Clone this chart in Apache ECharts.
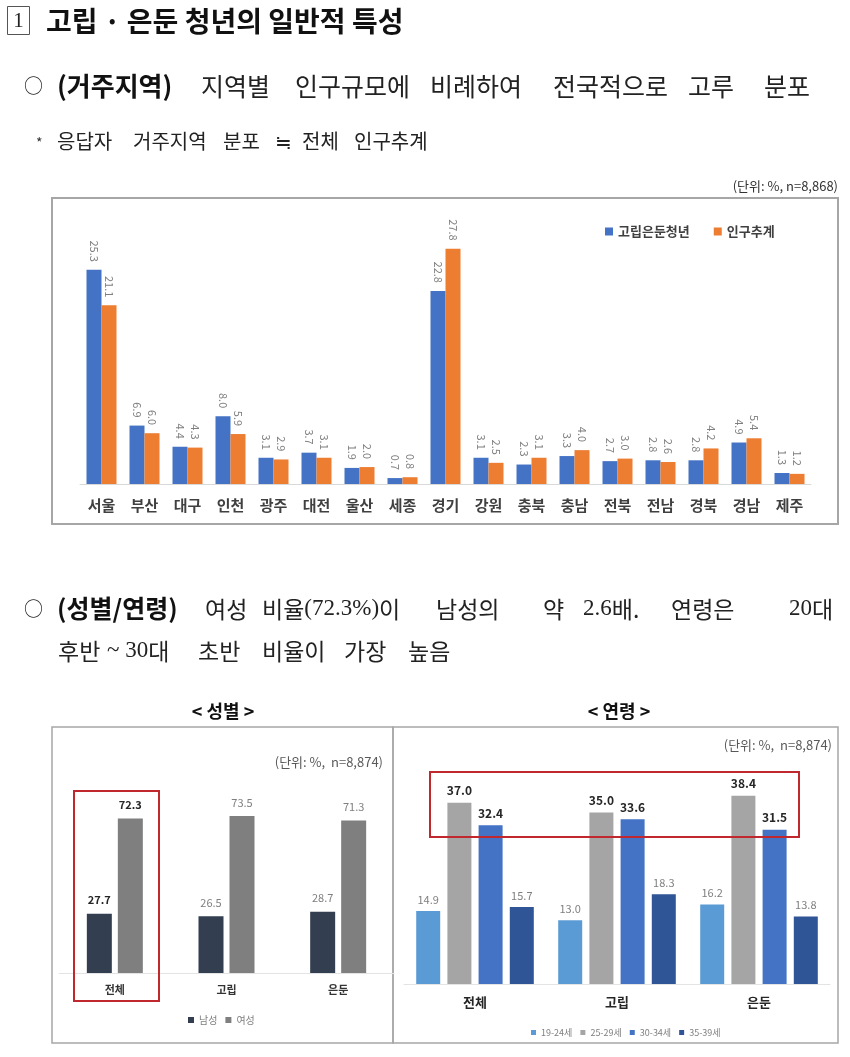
<!DOCTYPE html>
<html>
<head>
<meta charset="utf-8">
<script src="https://cdn.jsdelivr.net/npm/echarts@6/dist/echarts.min.js"></script>
<style>
html,body{margin:0;padding:0;background:#fff;}
#main{width:850px;height:1057px;}
</style>
</head>
<body>
<div id="main"></div>
<script>
// ---- Data ----
const regions = ['서울','부산','대구','인천','광주','대전','울산','세종','경기','강원','충북','충남','전북','전남','경북','경남','제주'];
const isolatedYouth = [25.3,6.9,4.4,8.0,3.1,3.7,1.9,0.7,22.8,3.1,2.3,3.3,2.7,2.8,2.8,4.9,1.3];
const populationEst = [21.1,6.0,4.3,5.9,2.9,3.1,2.0,0.8,27.8,2.5,3.1,4.0,3.0,2.6,4.2,5.4,1.2];

const genderGroups = ['전체','고립','은둔'];
const male = [27.7,26.5,28.7];
const female = [72.3,73.5,71.3];

const ageGroups = ['전체','고립','은둔'];
const age1924 = [14.9,13.0,16.2];
const age2529 = [37.0,35.0,38.4];
const age3034 = [32.4,33.6,31.5];
const age3539 = [15.7,18.3,13.8];

// ---- Rendering ----
const FONT = '"Noto Sans CJK KR","Noto Sans",sans-serif';
const SERIF = '"Liberation Serif",serif';
const chart = echarts.init(document.getElementById('main'), null, {renderer:'canvas'});
const fmt1 = p => Number(p.value).toFixed(1);

function txt(text, x, y, size, weight, opts) {
  opts = opts || {};
  return {
    type:'text', z:10,
    style: Object.assign({
      text:text, x:x, y:y, fontSize:size, fontWeight:weight||'normal',
      fontFamily:FONT, fill:opts.fill||'#111',
      align:opts.align||'left', verticalAlign:'middle'
    }, opts.extra||{})
  };
}
function mixed(text, x, y, size) {
  return {type:'text', z:10, style:{x:x, y:y, verticalAlign:'middle', fill:'#222', text:text,
    rich:{k:{fontSize:size, fontFamily:FONT, fill:'#222'}, n:{fontSize:size, fontFamily:SERIF, fill:'#222'}}}};
}

const L4 = 23;
const graphics = [
  // title
  {type:'rect', shape:{x:7.5,y:6.5,width:22,height:28}, style:{fill:'none',stroke:'#555',lineWidth:1}},
  txt('1', 18.5, 21, 21, 'normal', {align:'center', fill:'#222', extra:{fontFamily:SERIF}}),
  txt('고립 · 은둔 청년의 일반적 특성', 46, 21, 28, 'bold'),
  // line 2
  txt('○', 24, 86, 19, 'normal', {fill:'#222'}),
  txt('(거주지역)', 57, 86, 26, 'bold'),
  txt('지역별', 201, 86, 25, 'normal', {fill:'#222'}),
  txt('인구규모에', 295, 86, 25, 'normal', {fill:'#222'}),
  txt('비례하여', 430, 86, 25, 'normal', {fill:'#222'}),
  txt('전국적으로', 553, 86, 25, 'normal', {fill:'#222'}),
  txt('고루', 688, 86, 25, 'normal', {fill:'#222'}),
  txt('분포', 764, 86, 25, 'normal', {fill:'#222'}),
  // line 3
  txt('*', 36, 143, 14, 'normal', {fill:'#333'}),
  txt('응답자', 57, 141, 20, 'normal', {fill:'#222'}),
  txt('거주지역', 133, 141, 20, 'normal', {fill:'#222'}),
  txt('분포', 223, 141, 20, 'normal', {fill:'#222'}),
  txt('≒', 275, 141, 20, 'normal', {fill:'#222'}),
  txt('전체', 302, 141, 20, 'normal', {fill:'#222'}),
  txt('인구추계', 354, 141, 20, 'normal', {fill:'#222'}),
  // unit chart 1
  txt('(단위: %, n=8,868)', 838, 186, 13, 'normal', {align:'right', fill:'#333'}),
  // chart 1 border
  {type:'rect', shape:{x:52,y:198,width:786,height:326}, style:{fill:'none',stroke:'#A6A6A6',lineWidth:2}},
  // line 4
  txt('○', 24, 609, 19, 'normal', {fill:'#222'}),
  txt('(성별/연령)', 57, 608, 25, 'bold'),
  txt('여성', 205, 609, L4, 'normal', {fill:'#222'}),
  mixed('{k|비율}{n|(72.3%)}{k|이}', 262, 609, L4),
  txt('남성의', 436, 609, L4, 'normal', {fill:'#222'}),
  txt('약', 543, 609, L4, 'normal', {fill:'#222'}),
  mixed('{n|2.6}{k|배.}', 583, 609, L4),
  txt('연령은', 671, 609, L4, 'normal', {fill:'#222'}),
  mixed('{n|20}{k|대}', 789, 609, L4),
  // line 5
  txt('후반', 58, 651, L4, 'normal', {fill:'#222'}),
  mixed('{n|~ 30}{k|대}', 107, 651, L4),
  txt('초반', 198, 651, L4, 'normal', {fill:'#222'}),
  txt('비율이', 262, 651, L4, 'normal', {fill:'#222'}),
  txt('가장', 344, 651, L4, 'normal', {fill:'#222'}),
  txt('높음', 408, 651, L4, 'normal', {fill:'#222'}),
  // sub-titles
  txt('< 성별 >', 223, 711, 18, 'bold', {align:'center'}),
  txt('< 연령 >', 619, 711, 18, 'bold', {align:'center'}),
  // boxes chart 2/3
  {type:'rect', shape:{x:52,y:727,width:341,height:316}, style:{fill:'none',stroke:'#A6A6A6',lineWidth:1.5}},
  {type:'rect', shape:{x:393,y:727,width:445,height:316}, style:{fill:'none',stroke:'#A6A6A6',lineWidth:1.5}},
  txt('(단위: %,  n=8,874)', 383, 762, 13, 'normal', {align:'right', fill:'#595959'}),
  txt('(단위: %,  n=8,874)', 832, 745, 13, 'normal', {align:'right', fill:'#595959'}),
  // highlight boxes
  {type:'rect', z:20, shape:{x:74,y:791,width:85,height:210}, style:{fill:'none',stroke:'#C0282D',lineWidth:2}},
  {type:'rect', z:20, shape:{x:430,y:772,width:369,height:65}, style:{fill:'none',stroke:'#C0282D',lineWidth:2}}
];

const grayLabel = {show:true, position:'top', distance:6, formatter:fmt1, fontSize:11, color:'#7F7F7F', fontFamily:FONT};
const boldLabel = {show:true, position:'top', distance:6, formatter:fmt1, fontSize:12, fontWeight:'bold', color:'#262626', fontFamily:FONT};

function withFirstBold(arr) {
  return arr.map((v,i) => i === 0 ? {value:v, label:{fontWeight:'bold', color:'#262626', fontSize:11}} : v);
}

const rotLabel = {show:true, position:'top', distance:8, rotate:-90, align:'right', verticalAlign:'middle',
                  formatter:fmt1, fontSize:11, color:'#7F7F7F', fontFamily:FONT};

const option = {
  backgroundColor:'#fff',
  animation:false,
  textStyle:{fontFamily:FONT},
  graphic: graphics,
  legend:[
    {data:['고립은둔청년','인구추계'], left:600, top:220, icon:'rect', itemWidth:8, itemHeight:8, itemGap:24,
     textStyle:{fontSize:13, fontWeight:'bold', color:'#404040', fontFamily:FONT}},
    {data:['남성','여성'], left:183, top:1010, icon:'rect', itemWidth:6, itemHeight:6, itemGap:8,
     textStyle:{fontSize:10, color:'#7F7F7F', fontFamily:FONT}},
    {data:['19-24세','25-29세','30-34세','35-39세'], left:526, top:1023, icon:'rect', itemWidth:5, itemHeight:5, itemGap:8,
     textStyle:{fontSize:9, color:'#7F7F7F', fontFamily:FONT}}
  ],
  grid:[
    {left:80, width:731, top:230, height:254},
    {left:59, width:335, top:802, height:171},
    {left:404, width:426, top:788, height:196}
  ],
  xAxis:[
    {type:'category', gridIndex:0, data:regions, axisTick:{show:false},
     axisLine:{lineStyle:{color:'#D9D9D9'}},
     axisLabel:{fontSize:15, fontWeight:'bold', color:'#404040', margin:14, interval:0}},
    {type:'category', gridIndex:1, data:genderGroups, axisTick:{show:false},
     axisLine:{lineStyle:{color:'#E3E3E3'}},
     axisLabel:{fontSize:11, fontWeight:'bold', color:'#333', margin:11}},
    {type:'category', gridIndex:2, data:ageGroups, axisTick:{show:false},
     axisLine:{lineStyle:{color:'#E3E3E3'}},
     axisLabel:{fontSize:13, fontWeight:'bold', color:'#262626', margin:12}}
  ],
  yAxis:[
    {type:'value', gridIndex:0, min:0, max:30, show:false},
    {type:'value', gridIndex:1, min:0, max:80, show:false},
    {type:'value', gridIndex:2, min:0, max:40, show:false}
  ],
  series:[
    {name:'고립은둔청년', type:'bar', xAxisIndex:0, yAxisIndex:0, data:isolatedYouth, barWidth:15, barGap:'0%',
     itemStyle:{color:'#4472C4'}, label:rotLabel},
    {name:'인구추계', type:'bar', xAxisIndex:0, yAxisIndex:0, data:populationEst, barWidth:15, barGap:'0%',
     itemStyle:{color:'#ED7D31'}, label:rotLabel},

    {name:'남성', type:'bar', xAxisIndex:1, yAxisIndex:1, data:withFirstBold(male), barWidth:25, barGap:'24%',
     itemStyle:{color:'#333F50'}, label:Object.assign({}, grayLabel, {distance:8})},
    {name:'여성', type:'bar', xAxisIndex:1, yAxisIndex:1, data:withFirstBold(female), barWidth:25, barGap:'24%',
     itemStyle:{color:'#7F7F7F'}, label:Object.assign({}, grayLabel, {distance:8})},

    {name:'19-24세', type:'bar', xAxisIndex:2, yAxisIndex:2, data:age1924, barWidth:24, barGap:'30%',
     itemStyle:{color:'#5B9BD5'}, label:grayLabel},
    {name:'25-29세', type:'bar', xAxisIndex:2, yAxisIndex:2, data:age2529, barWidth:24, barGap:'30%',
     itemStyle:{color:'#A5A5A5'}, label:boldLabel},
    {name:'30-34세', type:'bar', xAxisIndex:2, yAxisIndex:2, data:age3034, barWidth:24, barGap:'30%',
     itemStyle:{color:'#4472C4'}, label:boldLabel},
    {name:'35-39세', type:'bar', xAxisIndex:2, yAxisIndex:2, data:age3539, barWidth:24, barGap:'30%',
     itemStyle:{color:'#2F5597'}, label:grayLabel}
  ]
};
chart.setOption(option);
</script>
</body>
</html>
